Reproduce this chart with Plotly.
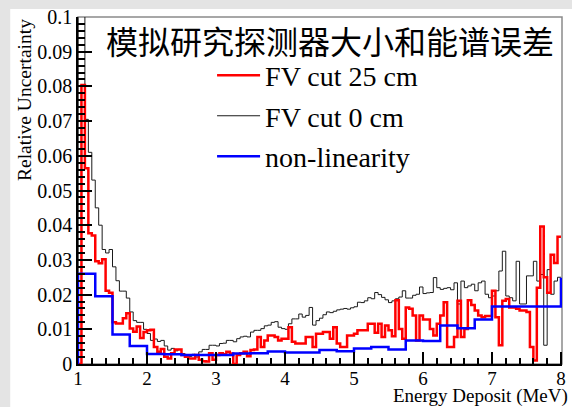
import numpy as np
import plotly.graph_objects as go

# ---- data -------------------------------------------------------------
energy_lo = 1.0          # MeV, left edge of the first bin
fine_width = 0.05        # MeV, bin width of the FV-cut histograms
coarse_width = 0.25      # MeV, bin width of the non-linearity histogram

# relative uncertainty, FV cut 0 cm (140 bins, 1-8 MeV)
fv_cut_0cm = [
    0.12, 0.12, 0.0705, 0.061, 0.053, 0.045, 0.040, 0.033, 0.032, 0.033,
    0.028, 0.024, 0.021, 0.021, 0.019, 0.015, 0.0125, 0.012, 0.012, 0.0100,
    0.0088, 0.0068, 0.0072, 0.0065, 0.0068, 0.0052, 0.0040, 0.0045, 0.0038, 0.0042,
    0.0030, 0.0026, 0.0022, 0.0028, 0.0020, 0.0035, 0.0042, 0.0042, 0.0054, 0.0054,
    0.0052, 0.0059, 0.0060, 0.0068, 0.0068, 0.0064, 0.0073, 0.0078, 0.0080, 0.0078,
    0.0092, 0.0097, 0.0097, 0.0102, 0.0110, 0.0112, 0.0120, 0.0122, 0.0106, 0.0102,
    0.0100, 0.0116, 0.0130, 0.0130, 0.0144, 0.0135, 0.0140, 0.0163, 0.0112, 0.0125,
    0.0132, 0.0142, 0.0150, 0.0148, 0.0152, 0.0156, 0.0158, 0.0160, 0.0158, 0.0162,
    0.0165, 0.0178, 0.0177, 0.0182, 0.0191, 0.0188, 0.0206, 0.0200, 0.0192, 0.0185,
    0.0177, 0.0182, 0.0188, 0.0193, 0.0211, 0.0190, 0.0190, 0.0198, 0.0201, 0.0222,
    0.0203, 0.0205, 0.0206, 0.0249, 0.0220, 0.0215, 0.0218, 0.0220, 0.0214, 0.0234,
    0.0173, 0.0239, 0.0220, 0.0225, 0.0230, 0.0211, 0.0234, 0.0239, 0.0201, 0.0191,
    0.0196, 0.0211, 0.0268, 0.0325, 0.0196, 0.0191, 0.0182, 0.0296, 0.0173, 0.0173,
    0.0254, 0.0254, 0.0296, 0.0239, 0.0258, 0.0054, 0.0272, 0.0201, 0.0239, 0.0250,
]

# relative uncertainty, FV cut 25 cm (140 bins, 1-8 MeV)
fv_cut_25cm = [
    0.0, 0.0804, 0.0564, 0.0377, 0.0370, 0.0296, 0.0290, 0.0302, 0.0211, 0.0205,
    0.0120, 0.0117, 0.0117, 0.0132, 0.0146, 0.0102, 0.0093, 0.0108, 0.0075, 0.0092,
    0.0097, 0.0099, 0.0049, 0.0035, 0.0043, 0.0021, 0.0016, 0.0031, 0.0042, 0.0042,
    0.0026, 0.0021, 0.0016, 0.0016, 0.0026, 0.0012, 0.0008, 0.0007, 0.0031, 0.0012,
    0.0026, 0.0031, 0.0028, 0.0035, 0.0030, 0.0, 0.0026, 0.0031, 0.0035, 0.0022,
    0.0040, 0.0042, 0.0078, 0.0049, 0.0068, 0.0082, 0.0082, 0.0078, 0.0068, 0.0073,
    0.0073, 0.0106, 0.0064, 0.0059, 0.0059, 0.0059, 0.0078, 0.0078, 0.0049, 0.0087,
    0.0087, 0.0092, 0.0092, 0.0073, 0.0106, 0.0059, 0.0049, 0.0049, 0.0082, 0.0082,
    0.0087, 0.0097, 0.0097, 0.0097, 0.0116, 0.0116, 0.0090, 0.0116, 0.0078, 0.0111,
    0.0097, 0.0080, 0.0184, 0.0101, 0.0073, 0.0163, 0.0159, 0.0140, 0.0068, 0.0140,
    0.0128, 0.0128, 0.0101, 0.0082, 0.0116, 0.0140, 0.0178, 0.0049, 0.0049, 0.0078,
    0.0182, 0.0078, 0.0101, 0.0184, 0.0170, 0.0154, 0.0140, 0.0135, 0.0138, 0.0138,
    0.0211, 0.0135, 0.0054, 0.0182, 0.0187, 0.0163, 0.0163, 0.0159, 0.0154, 0.0154,
    0.0150, 0.0049, 0.0010, 0.0220, 0.0396, 0.0250, 0.0205, 0.0315, 0.0291, 0.0367,
]

# relative uncertainty from energy non-linearity (0.25 MeV bins from 1 MeV)
non_linearity = [
    0.026, 0.0195, 0.0085, 0.0052, 0.0029, 0.0028, 0.0026, 0.0026, 0.0026, 0.0030,
    0.0031, 0.0036, 0.0033, 0.0033, 0.0040, 0.0037, 0.0045, 0.0049, 0.0042, 0.0068,
    0.0066, 0.0111, 0.0103, 0.0128, 0.0166, 0.0166, 0.0166, 0.0166, 0.0245,
]

series_names = ["FV cut 25 cm", "FV cut 0 cm", "non-linearity"]
header_text = "模拟研究探测器大小和能谱误差"
x_title = "Energy Deposit (MeV)"
y_title = "Relative Uncertainty"
x_ticks = [1, 2, 3, 4, 5, 6, 7, 8]
y_ticks = [0, 0.01, 0.02, 0.03, 0.04, 0.05, 0.06, 0.07, 0.08, 0.09, 0.1]
y_tick_text = ["0", "0.01", "0.02", "0.03", "0.04", "0.05",
               "0.06", "0.07", "0.08", "0.09", "0.1"]


def histogram_outline(lo, width, values):
    """Step outline of a histogram: rises from zero at the first edge."""
    values = np.asarray(values, dtype=float)
    edges = lo + width * np.arange(len(values) + 1)
    x = np.concatenate([[edges[0]], edges[:-1], [edges[-1]]])
    y = np.concatenate([[0.0], values, [values[-1]]])
    return x, y


SERIF = "Liberation Serif, Times New Roman, serif"

fig = go.Figure()

specs = [
    (series_names[0], fine_width, fv_cut_25cm, "#ff0000", 2.5),
    (series_names[1], fine_width, fv_cut_0cm, "#1a1a1a", 1.0),
    (series_names[2], coarse_width, non_linearity, "#0000ff", 2.5),
]
draw_order = [1, 0, 2]
for k in draw_order:
    name, width, vals, color, lw = specs[k]
    hx, hy = histogram_outline(energy_lo, width, vals)
    fig.add_trace(go.Scatter(
        x=hx, y=hy, mode="lines", name=name,
        line=dict(color=color, width=lw, shape="hv"),
        legendrank=k, legendgroup=name, hoverinfo="skip",
    ))

fig.update_layout(
    width=572, height=407,
    margin=dict(l=78, r=6, t=13, b=43),
    paper_bgcolor="#e4e4e4",
    plot_bgcolor="white",
    font=dict(family=SERIF, size=20, color="black"),
    showlegend=True,
    legend=dict(
        x=0.277, y=0.903, xanchor="left", yanchor="top",
        bgcolor="rgba(0,0,0,0)", borderwidth=0,
        font=dict(family=SERIF, size=28, color="black"),
        itemwidth=43, tracegroupgap=1,
    ),
    xaxis=dict(
        range=[1, 8.015], tickvals=x_ticks, ticks="inside", ticklen=12,
        tickwidth=1.5, tickcolor="black", showline=True, linecolor="black",
        linewidth=1.5, showgrid=False, zeroline=False,
        tickfont=dict(family=SERIF, size=19), ticklabelstandoff=-4,
        minor=dict(dtick=0.2, ticks="inside", ticklen=6, tickwidth=1.5,
                   tickcolor="black", showgrid=False),
    ),
    yaxis=dict(
        range=[0, 0.1], tickvals=y_ticks, ticktext=y_tick_text,
        ticks="inside", ticklen=14, tickwidth=1.5, tickcolor="black",
        showline=True, linecolor="black", linewidth=1.5, showgrid=False,
        zeroline=False, tickfont=dict(family=SERIF, size=20),
        minor=dict(dtick=0.002, ticks="inside", ticklen=7, tickwidth=1.5,
                   tickcolor="black", showgrid=False),
    ),
    shapes=[
        # white canvas on the grey page
        dict(type="rect", xref="paper", yref="paper", x0=-0.14, x1=1.05,
             y0=-0.2, y1=1.023, fillcolor="white", line=dict(width=0),
             layer="below"),
        # frame around the plot area
        dict(type="rect", xref="paper", yref="paper", x0=0, x1=1, y0=0, y1=1,
             line=dict(color="#8a8a8a", width=1.5), layer="below"),
    ],
    annotations=[
        dict(text=header_text, xref="paper", yref="paper", x=0.52, y=0.935,
             xanchor="center", yanchor="middle", showarrow=False,
             font=dict(family="Noto Sans CJK SC", size=32, color="black")),
        dict(text=x_title, xref="paper", yref="paper", x=1.0, y=0,
             xanchor="right", yanchor="top", yshift=-19, xshift=8,
             showarrow=False, font=dict(family=SERIF, size=19)),
        dict(text=y_title, xref="paper", yref="paper", x=0, y=1,
             xanchor="center", yanchor="top", xshift=-54, showarrow=False,
             textangle=-90, font=dict(family=SERIF, size=19.5)),
    ],
)

fig.write_html("out.html")
